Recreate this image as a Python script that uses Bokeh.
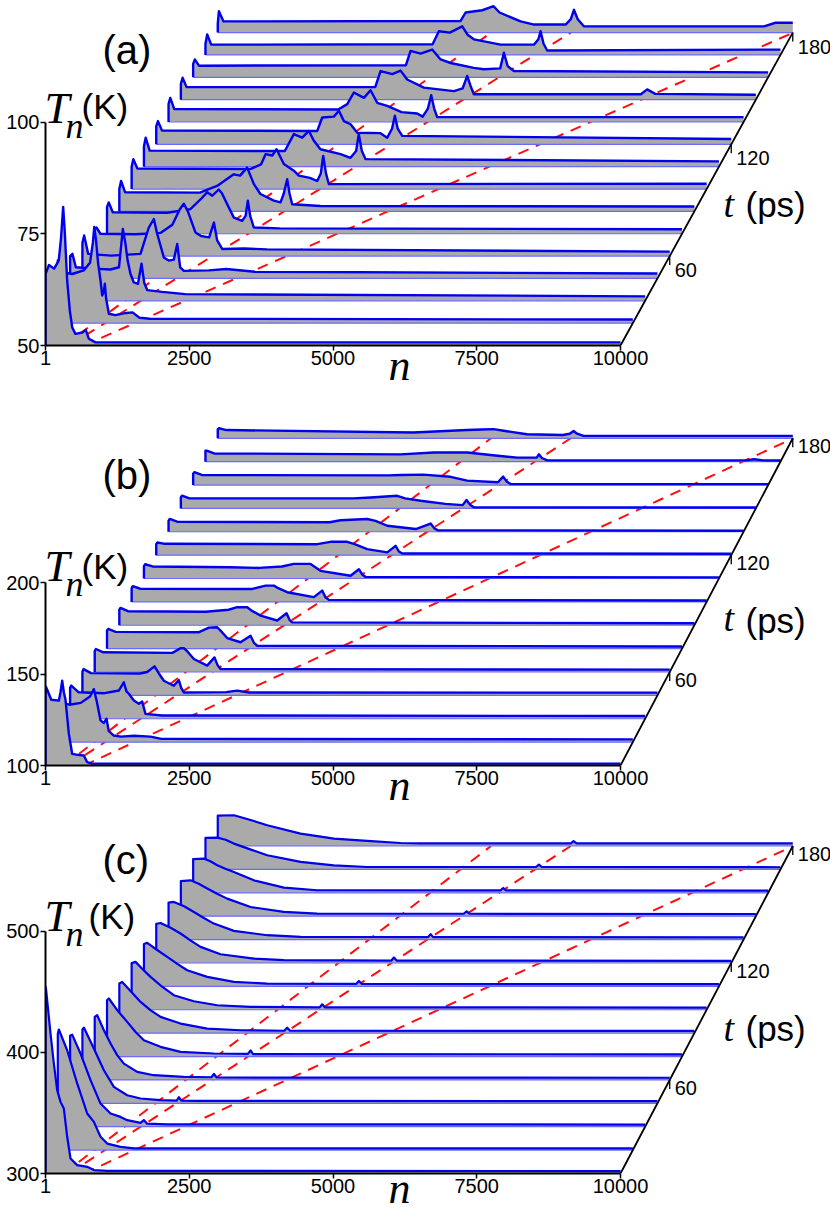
from bokeh.plotting import figure
from bokeh.models import Range1d, FixedTicker, Label
from bokeh.layouts import column
from bokeh.embed import file_html
from bokeh.resources import INLINE

# ---------------- data ----------------
SLICE_T = [12, 24, 36, 48, 60, 72, 84, 96, 108, 120, 132, 144, 156, 168, 180]   # ps
T_TICKS = [60, 120, 180]
N_TICKS = [1, 2500, 5000, 7500, 10000]
FRONT_V = [26.4, 34.1, 55.6]          # sites / ps (red dashed fronts)
A_YTICKS = [50, 75, 100]
B_YTICKS = [100, 150, 200]
C_YTICKS = [300, 400, 500]

A_N = [
    [0, 60, 150, 230, 270, 307, 335, 377, 423, 464, 520, 640, 700, 755, 870, 10000],
    [0, 40, 250, 450, 560, 610, 634, 665, 700, 743, 772, 800, 818, 840, 888, 1000, 1150, 1300, 1420, 1600, 10000],
    [0, 40, 100, 400, 700, 850, 917, 960, 1000, 1050, 1108, 1180, 1242, 1290, 1341, 1600, 2000, 10000],
    [0, 30, 100, 500, 1010, 1155, 1242, 1300, 1416, 1500, 1590, 1649, 1700, 1764, 2200, 2500, 3000, 10000],
    [0, 30, 100, 700, 1150, 1350, 1480, 1550, 1620, 1751, 1850, 1990, 2073, 2130, 2217, 2600, 3000, 10000],
    [0, 30, 100, 1050, 1450, 1650, 1743, 1830, 1944, 2000, 2090, 2206, 2351, 2410, 2449, 2490, 2553, 3000, 10000],
    [0, 30, 100, 1400, 1700, 1990, 2100, 2223, 2340, 2454, 2687, 2803, 2860, 2919, 2960, 3006, 3500, 10000],
    [0, 30, 100, 2070, 2250, 2329, 2445, 2520, 2647, 2821, 2908, 3100, 3227, 3290, 3332, 3380, 3430, 10000],
    [0, 30, 100, 2450, 2607, 2753, 2868, 2955, 3070, 3419, 3592, 3690, 3736, 3790, 3853, 10000],
    [0, 30, 100, 2800, 2887, 3089, 3177, 3263, 3380, 3496, 3900, 4017, 4100, 4150, 4200, 4278, 10000],
    [0, 30, 100, 2950, 3108, 3223, 3397, 3513, 3629, 3803, 4052, 4325, 4420, 4510, 4568, 4620, 4672, 10000],
    [0, 30, 100, 3380, 3473, 3677, 3821, 3936, 4226, 4748, 4900, 4980, 5040, 5096, 8000, 8110, 8250, 10000],
    [0, 30, 100, 3700, 3781, 3955, 4157, 4303, 4477, 4881, 5056, 5340, 5404, 5470, 5578, 10000],
    [0, 30, 100, 3950, 4059, 4250, 4466, 4560, 4668, 5132, 5712, 5790, 5828, 5880, 5943, 10000],
    [0, 20, 100, 4223, 4310, 4600, 4797, 4900, 5266, 5500, 6050, 6140, 6194, 6260, 6367, 9500, 9700, 10000],
]
A_T = [
    [66, 68, 67.2, 69, 74, 81, 75.5, 64.5, 57.8, 54.1, 52.6, 52.9, 53.5, 51.5, 50.7, 50.7],
    [64, 61.5, 61, 61.8, 63.5, 68, 71.5, 68.5, 63.5, 59.5, 56.2, 57, 58.8, 55.5, 52.1, 51.8, 52.2, 52.4, 51.2, 51.0, 50.8],
    [60, 60.5, 57.5, 57.2, 57, 57.5, 66.1, 63, 59, 56, 54.1, 53.8, 58.3, 54, 52.4, 52, 51.5, 51.0],
    [58, 59.6, 55.5, 55.1, 55.5, 61.4, 63.3, 60, 54.7, 54, 54.2, 57.7, 52.5, 51.7, 51.8, 52.1, 51.5, 51.1],
    [56, 56.4, 55, 54.9, 55.2, 57, 60.5, 61.7, 60, 55.3, 54.5, 54.2, 57.5, 53.5, 51.6, 51.7, 51.5, 51.0],
    [56, 57, 54.8, 54.7, 55.5, 58, 59.3, 58.5, 59.9, 59, 56.6, 53.6, 52.9, 54, 57.4, 54, 51.4, 51.2, 51.0],
    [55, 56.8, 54.3, 54.2, 55.7, 58.3, 58, 59.8, 56.1, 53.9, 52.4, 52, 54, 57.2, 54, 51.6, 51.2, 51.1],
    [55, 56.7, 54.6, 54.5, 55.5, 57.8, 57.5, 58.9, 55.6, 54.1, 53, 52.5, 51.8, 53.5, 57.4, 53.5, 51.1, 51.2],
    [54.5, 56.5, 53.6, 53.5, 57.3, 56.5, 58, 55.8, 53.9, 52.8, 52, 53.5, 57.3, 53.5, 51.7, 51.2],
    [54, 55.2, 53.1, 53, 56, 56.2, 57.5, 55.2, 54.5, 52.6, 52.5, 51.5, 53.5, 56.4, 53.5, 51.9, 51.2],
    [54, 55.4, 52.9, 52.8, 54, 56.6, 55.4, 57.1, 54.3, 53.6, 52.2, 51.9, 51.2, 53, 56, 53, 51.1, 51.1],
    [53.5, 54.9, 52.8, 52.8, 56.4, 55.7, 56.5, 54.5, 52.7, 51.9, 52.5, 55.3, 53, 51.2, 51.2, 52.3, 51.3, 51.1],
    [53, 54, 52.6, 52.7, 55.9, 55.3, 56.2, 54, 53.2, 52.1, 51.8, 52, 55.5, 52.5, 51.4, 51.1],
    [52.5, 54.6, 52.3, 52.4, 55.3, 55.0, 56.4, 54.5, 53.5, 52.3, 52.3, 53.5, 55.3, 52.5, 51.0, 51.2],
    [52, 54.8, 52.5, 52.6, 54.5, 55, 55.9, 54.5, 52.5, 51.8, 51.8, 53, 55.1, 53, 51.4, 51.4, 52.2, 52.2],
]

B_N = [
    [0, 10, 100, 232, 260, 290, 320, 348, 406, 464, 560, 667, 725, 800, 10000],
    [0, 20, 200, 400, 560, 627, 680, 743, 800, 847, 887, 974, 1100, 1322, 1612, 1800, 10000],
    [0, 20, 150, 600, 850, 934, 980, 1021, 1109, 1195, 1253, 1311, 1600, 10000],
    [0, 20, 150, 1000, 1126, 1254, 1330, 1416, 1590, 1677, 1720, 1764, 2500, 2692, 2900, 10000],
    [0, 20, 150, 1350, 1492, 1550, 1620, 1724, 1956, 2083, 2140, 2188, 10000],
    [0, 20, 150, 1600, 1771, 1916, 2000, 2090, 2322, 2496, 2560, 2612, 10000],
    [0, 20, 150, 1500, 1900, 2050, 2224, 2300, 2456, 2745, 2908, 2960, 3006, 10000],
    [0, 20, 150, 2100, 2329, 2474, 2550, 2705, 3169, 3314, 3370, 3430, 10000],
    [0, 20, 150, 1500, 2000, 2400, 2607, 2897, 3071, 3593, 3738, 3800, 3854, 10000],
    [0, 20, 150, 2800, 3031, 3321, 3450, 3669, 4017, 4162, 4220, 4278, 10000],
    [0, 20, 150, 2800, 2991, 3455, 3600, 3803, 4300, 4557, 4620, 4680, 10000],
    [0, 20, 150, 3000, 3300, 3763, 3900, 4169, 4600, 4900, 4969, 5030, 5096, 10000],
    [0, 20, 150, 3400, 3607, 4000, 4476, 4766, 5300, 5392, 5450, 5520, 10000],
    [0, 20, 150, 3393, 3973, 4552, 5000, 5422, 5760, 5799, 5850, 5944, 9400, 9538, 9700, 10000],
    [0, 20, 150, 3400, 4333, 4600, 4797, 5000, 5376, 6000, 6120, 6188, 6250, 6362, 10000],
]
B_T = [
    [140, 143, 136, 135.5, 140, 146.5, 140, 136, 117.3, 106.4, 105.8, 105.5, 101.8, 101, 101],
    [121, 122, 120.5, 121.5, 125, 129, 122, 111.9, 110.5, 112.8, 106, 103.6, 103, 103.5, 103, 101.8, 101.5],
    [117, 118.2, 114.5, 114, 115.5, 120, 115, 113.7, 110, 108.2, 109.5, 102.7, 101.8, 101.5],
    [113, 114.4, 112.2, 112, 112.8, 115.9, 112, 108, 105.3, 108.4, 104, 101.6, 101.8, 102.6, 101.6, 101.5],
    [111.5, 112.6, 110.8, 110.5, 113, 113.1, 111, 107.1, 103.5, 108, 103.5, 101.6, 101.3],
    [110, 110.8, 109.2, 109, 111.5, 111.7, 109, 105.8, 103.5, 107.1, 103, 101.6, 101.2],
    [108.5, 109.5, 107.7, 107.4, 108.5, 109.9, 109.9, 108, 105.3, 102.6, 106.6, 103, 101.6, 101.1],
    [107.5, 108.6, 107.2, 107.1, 108.9, 108.9, 107.5, 105.3, 102.6, 106.2, 102.5, 101.1, 100.8],
    [106.8, 107.8, 106.6, 106.2, 105.8, 106.6, 108, 108, 104.2, 101.5, 105.1, 102, 100.9, 100.6],
    [106, 106.9, 106.2, 106, 107.3, 107.3, 106, 103.3, 101.5, 105.1, 102, 100.9, 100.8],
    [106, 107, 105.5, 105.2, 106.3, 107, 106, 103.3, 101.5, 104.5, 102, 100.8, 100.6],
    [106, 107, 105.5, 105.5, 106, 106.9, 105.5, 104.2, 102.5, 101.8, 104.6, 102, 100.6, 100.5],
    [106.2, 107, 105.5, 105.3, 105.5, 105.7, 104.5, 102.4, 101.5, 104.6, 102, 100.6, 100.5],
    [106, 106, 104.5, 104, 105, 105, 103.5, 102.2, 102.2, 104, 102, 100.7, 100.7, 101.3, 100.7, 100.6],
    [105, 105.5, 104.5, 103.2, 104.5, 104.8, 105, 104, 102.2, 101.8, 102.5, 104, 102.5, 101.3, 101.3],
]

C_N = [
    [0, 10, 87, 145, 203, 261, 319, 377, 435, 551, 725, 841, 1072, 10000],
    [0, 18, 163, 337, 511, 627, 743, 859, 1090, 1322, 10000],
    [0, 36, 181, 355, 529, 703, 877, 993, 1224, 1282, 1340, 1688, 10000],
    [0, 25, 199, 373, 547, 779, 1010, 1358, 1640, 1677, 1720, 2000, 10000],
    [0, 43, 160, 275, 390, 507, 739, 1028, 1550, 2030, 2073, 2120, 10000],
    [0, 32, 190, 351, 500, 641, 930, 1278, 1858, 2450, 2496, 2540, 10000],
    [0, 50, 210, 369, 540, 717, 1064, 1528, 2108, 2870, 2919, 2970, 10000],
    [0, 68, 200, 329, 530, 734, 1082, 1488, 2068, 3270, 3314, 3360, 10000],
    [0, 57, 230, 405, 580, 752, 1100, 1564, 2144, 3690, 3738, 3790, 10000],
    [0, 75, 250, 423, 600, 770, 1118, 1698, 2220, 4090, 4133, 4180, 10000],
    [0, 93, 270, 441, 615, 788, 1136, 1716, 2296, 4510, 4557, 4600, 10000],
    [0, 169, 310, 459, 630, 806, 1212, 1791, 2371, 4920, 4969, 5020, 10000],
    [0, 187, 300, 419, 560, 708, 1056, 1578, 2157, 5345, 5392, 5440, 10000],
    [0, 205, 350, 494, 780, 1074, 1654, 2233, 2813, 5750, 5799, 5850, 10000],
    [0, 281, 570, 860, 1440, 2020, 2600, 3179, 3527, 6140, 6188, 6240, 10000],
]
C_T = [
    [454, 452, 415.5, 390.8, 368.8, 359.1, 353.6, 330.3, 312.4, 306.9, 305.5, 302.8, 302.2, 302.0],
    [396, 399.5, 382.4, 355, 330.2, 323.3, 311, 305.4, 302.7, 301.5, 301.5],
    [375, 376, 360.4, 338.4, 319.1, 310.9, 308.1, 305.4, 303.2, 305.5, 302.5, 302, 301.8],
    [361, 362.5, 345.2, 327.3, 313.6, 306.7, 304, 302.6, 302.3, 305, 302.2, 302, 301.8],
    [352, 353.4, 341, 330.1, 320.5, 313.5, 306.7, 303.9, 302.5, 302.2, 305, 302, 301.8],
    [346.5, 347.9, 337.5, 328.6, 320, 313.5, 308, 303.9, 302.5, 302.2, 305, 302, 301.8],
    [341, 342.3, 334, 325.8, 319, 313.4, 307.9, 303.8, 302.4, 302, 304.5, 302, 301.8],
    [338.5, 339.5, 333, 327.1, 319, 312, 307, 303.7, 302.4, 302, 304.5, 302, 301.8],
    [335, 335.9, 330, 324.3, 318.5, 313.3, 307.8, 303.7, 302.3, 302, 304.5, 302, 301.8],
    [332.3, 333, 329, 324.3, 318.5, 313.3, 307.2, 303.6, 302.3, 302, 304.5, 302, 301.8],
    [330.5, 331.1, 327.5, 322.8, 317.8, 313.2, 307.2, 303.6, 302.2, 302, 304.5, 302, 301.8],
    [329, 329.6, 326.8, 322.8, 318.5, 314.5, 307.6, 303.5, 302.1, 302, 304, 302, 301.8],
    [327.8, 328.2, 326, 322.7, 319.8, 317.2, 310.3, 304.3, 302.1, 302, 304, 302, 301.8],
    [326, 326.2, 324.5, 321.3, 316.5, 311.7, 306.2, 303.4, 302, 302, 304, 302, 301.8],
    [325, 325.4, 321.5, 317.1, 310.2, 306.1, 304.2, 302.5, 302.2, 302.2, 304, 302.2, 302.2],
]

# ---------------- layout / style ----------------
W = 830
LEFT = 45            # px, frame left (n = 0)
PX_N = 0.0575        # px per site
DXN = 214            # horizontal shift per slice (sites)
N_END = 10000
SANS = "Liberation Sans"
SERIF = "Liberation Serif"
BLUE = "#0000f0"
GRAY = "#aaaaaa"
BASE_BLUE = "#6a6aff"
RED = "#ff0d0d"
NBSP = "\u00a0"

# positions of texts are page pixels (left, alphabetic baseline)
PANELS = [
    dict(tag="(a)", N=A_N, T=A_T, yticks=A_YTICKS, top=0, height=410, axis_y=345, px_k=4.47, dT=5.0, lw=2.4,
         tdy=14, nstand=-27,
         pos=dict(tag=(102, 49), T=(44, 107), sub=(65, 125), K=(81, 106), t=(723, 203), ps=(745, 204))),
    dict(tag="(b)", N=B_N, T=B_T, yticks=B_YTICKS, top=410, height=402, axis_y=765, px_k=1.826, dT=12.8, lw=2.4,
         tdy=8, nstand=-27,
         pos=dict(tag=(102, 474), T=(44, 565), sub=(65, 583), K=(81, 566), t=(723, 617), ps=(745, 620))),
    dict(tag="(c)", N=C_N, T=C_T, yticks=C_YTICKS, top=812, height=403, axis_y=1173, px_k=1.212, dT=19.3, lw=2.2,
         tdy=8, nstand=-32,
         pos=dict(tag=(102, 859), T=(44, 915), sub=(65, 933), K=(88, 916), t=(723, 1027), ps=(745, 1028))),
]


def make_panel(cfg):
    H = cfg["height"]
    frame_h = cfg["axis_y"] - cfg["top"]
    bottom = H - frame_h
    T0 = cfg["yticks"][0]
    px_k = cfg["px_k"]
    dT = cfg["dT"]
    x_end = (W - LEFT) / PX_N
    y_end = T0 + frame_h / px_k

    p = figure(width=W, height=H, x_range=Range1d(0, x_end), y_range=Range1d(T0, y_end),
               output_backend="svg", toolbar_location=None,
               min_border_left=LEFT, min_border_right=0, min_border_top=0,
               min_border_bottom=bottom)
    p.outline_line_color = None
    p.grid.visible = False
    p.background_fill_color = "white"
    p.border_fill_color = "white"

    # axes
    p.xaxis.ticker = FixedTicker(ticks=N_TICKS)
    p.xaxis.bounds = (N_TICKS[0], N_TICKS[-1])
    p.yaxis.ticker = FixedTicker(ticks=cfg["yticks"])
    p.yaxis.bounds = (cfg["yticks"][0], cfg["yticks"][-1])
    for ax in (p.xaxis, p.yaxis):
        ax.axis_line_width = 2
        ax.axis_line_color = "black"
        ax.major_tick_line_width = 1.5
        ax.major_tick_out = 5
        ax.major_tick_in = 0
        ax.minor_tick_line_color = None
        ax.major_label_text_font = SANS
        ax.major_label_text_font_size = "20px"
        ax.major_label_text_color = "black"
    p.xaxis.major_label_standoff = 0
    p.yaxis.major_label_standoff = 1
    # axis title "n" (nbsp padding moves the glyph left of the frame centre)
    p.xaxis.axis_label = "n" + NBSP * 7
    p.xaxis.axis_label_text_font = SERIF
    p.xaxis.axis_label_text_font_style = "italic"
    p.xaxis.axis_label_text_font_size = "44px"
    p.xaxis.axis_label_text_color = "black"
    p.xaxis.axis_label_standoff = cfg["nstand"]

    t0 = SLICE_T[0]
    dt = SLICE_T[1] - SLICE_T[0]

    def sidx(t):
        return (t - t0) / dt

    def X(px):
        return (px - LEFT) / PX_N

    def Y(py):
        return T0 + (cfg["axis_y"] - py) / px_k

    # dashed front lines on the base plane
    for v in FRONT_V:
        ts = [SLICE_T[0], SLICE_T[-1]]
        xs = [v * t + sidx(t) * DXN for t in ts]
        ys = [T0 + sidx(t) * dT for t in ts]
        p.line(xs, ys, line_color=RED, line_width=2.0, line_dash="11 8")

    # slices, back to front
    for k in reversed(range(len(SLICE_T))):
        s = sidx(SLICE_T[k])
        ox = s * DXN
        oy = s * dT
        base = T0 + oy
        n = cfg["N"][k]
        temp = cfg["T"][k]
        xs = [n[0] + ox] + [v + ox for v in n] + [n[-1] + ox]
        ys = [base] + [v + oy for v in temp] + [base]
        p.patch(xs, ys, fill_color=GRAY, line_color=None)
        p.line([n[0] + ox, n[-1] + ox], [base, base], line_color=BASE_BLUE, line_width=1.2)
        p.line(xs[:-1], ys[:-1], line_color=BLUE, line_width=cfg["lw"], line_join="round")

    # oblique time axis
    s_last = sidx(SLICE_T[-1])
    p.line([N_END, N_END + s_last * DXN], [T0, T0 + s_last * dT], line_color="black", line_width=1.8)
    for t in T_TICKS:
        s = sidx(t)
        ax_x = N_END + s * DXN
        ax_y = T0 + s * dT
        p.segment(x0=[ax_x], y0=[ax_y], x1=[ax_x], y1=[ax_y - 9 / px_k], line_color="black", line_width=1.3)
        p.add_layout(Label(x=ax_x + 5 / PX_N, y=ax_y - cfg["tdy"] / px_k, text=str(t),
                           text_font=SANS, text_font_size="20px", text_baseline="middle",
                           text_align="left", text_color="black"))

    pos = cfg["pos"]

    def lab(key, text, font, size, style="normal"):
        px, py = pos[key]
        p.add_layout(Label(x=X(px), y=Y(py), text=text, text_font=font, text_font_size=size,
                           text_font_style=style, text_baseline="alphabetic", text_align="left",
                           text_color="black"))

    lab("tag", cfg["tag"], SANS, "40px")
    lab("T", "T", SERIF, "45px", "italic")
    lab("sub", "n", SERIF, "36px", "italic")
    lab("K", "(K)", SANS, "35px")
    lab("t", "t", SERIF, "38px", "italic")
    lab("ps", "(ps)", SANS, "35px")
    return p


figs = [make_panel(c) for c in PANELS]
layout = column(*figs, spacing=0)

open("out.html", "w").write(file_html(layout, INLINE))
